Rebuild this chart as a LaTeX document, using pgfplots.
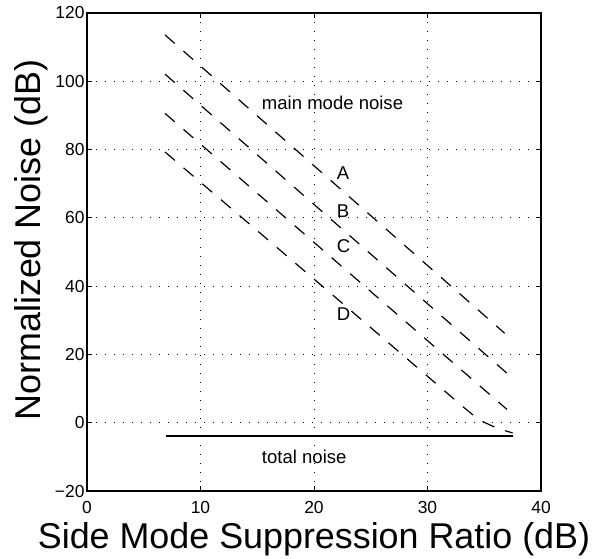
\documentclass[border=0pt]{standalone}
\usepackage{fontspec}
\setmainfont{Liberation Sans}
\usepackage{pgfplots}
\pgfplotsset{compat=1.18}
\begin{document}
\begin{tikzpicture}
\path[use as bounding box] (-87bp,-68bp) rectangle (516bp,491bp);
\begin{axis}[
 width=454bp,height=478bp,scale only axis,
 xmin=0,xmax=40,ymin=-20,ymax=120,
 xtick={0,10,20,30,40}, ytick={-20,0,20,40,60,80,100,120},
 xticklabels={0,10,20,30,40},
 yticklabels={−20,0,20,40,60,80,100,120},
 tick align=inside, major tick length=5bp,
 tick style={black,line width=0.8bp},
 axis line style={line width=1.2bp},
 grid=major,
 major grid style={black,line width=0.9bp,dash pattern=on 1.2bp off 7.8bp},
 ticklabel style={font=\fontsize{17.5}{20}\selectfont},
 xticklabel style={yshift=-7bp},
 yticklabel style={xshift=1bp},
 xlabel={Side Mode Suppression Ratio (dB)},
 ylabel={Normalized Noise (dB)},
 label style={font=\fontsize{36}{40}\selectfont},
 xlabel style={at={(axis description cs:0.5,-0.1213)},anchor=base},
 ylabel style={at={(axis description cs:-0.1035,0.525)},anchor=base},
 clip=false,
]
\addplot[black,line width=1.2bp,dash pattern=on 13bp off 11.5bp] coordinates {(6.87,113.6)(36.8,26.2)};
\addplot[black,line width=1.2bp,dash pattern=on 13bp off 11.5bp] coordinates {(6.87,102.1)(37,14.5)};
\addplot[black,line width=1.2bp,dash pattern=on 13bp off 11.5bp] coordinates {(6.87,90.6)(37,3.9)};
\addplot[black,line width=1.2bp,dash pattern=on 13bp off 11.5bp] coordinates {(6.87,79.3)(22,36.4)(30,13.6)(32,7.9)(33,5.0)(34,2.3)(35,0.1)(36,-1.4)(37,-2.5)(37.5,-3.0)};
\addplot[black,line width=1.3bp] coordinates {(6.96,-3.9)(37.5,-3.9)};
\node[anchor=west,inner sep=0pt,font=\fontsize{18.6}{22}\selectfont] at (axis cs:15.4,93.7) {main mode noise};
\node[anchor=west,inner sep=0pt,font=\fontsize{18.6}{22}\selectfont] at (axis cs:15.4,-10) {total noise};
\node[anchor=west,inner sep=0pt,font=\fontsize{18.6}{22}\selectfont] at (axis cs:22,73) {A};
\node[anchor=west,inner sep=0pt,font=\fontsize{18.6}{22}\selectfont] at (axis cs:22,62.1) {B};
\node[anchor=west,inner sep=0pt,font=\fontsize{18.6}{22}\selectfont] at (axis cs:22,51.6) {C};
\node[anchor=west,inner sep=0pt,font=\fontsize{18.6}{22}\selectfont] at (axis cs:22,31.7) {D};
\end{axis}
\end{tikzpicture}
\end{document}
